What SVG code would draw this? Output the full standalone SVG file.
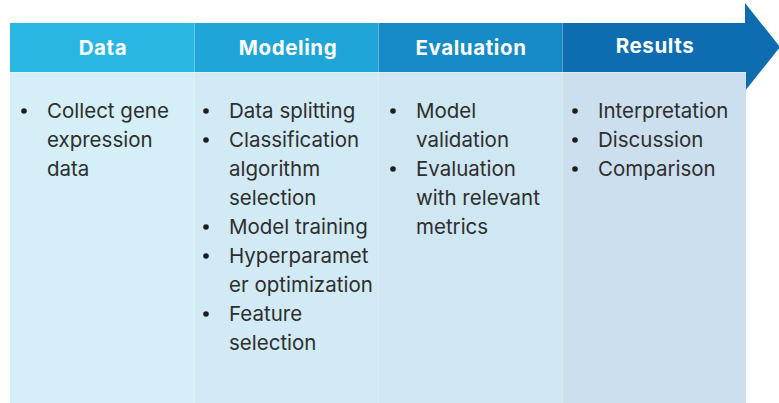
<svg xmlns="http://www.w3.org/2000/svg" width="779" height="403" viewBox="0 0 779 403">
  <style>
    .head { font-family: Inter, "Noto Sans", "Liberation Sans", sans-serif; font-size: 20.5px; font-weight: 700; fill: #ffffff; text-anchor: middle; letter-spacing: 0.6px; }
    .item { font-family: Inter, "Noto Sans", "Liberation Sans", sans-serif; font-size: 20.5px; fill: #2e2e2e; }
    .dot { fill: #1e1e1e; }
    .sep { stroke: #ffffff; stroke-opacity: 0.35; stroke-width: 1; }
  </style>
  <rect width="779" height="403" fill="#ffffff"/>

  <!-- arrow head at the end of the header band -->
  <polygon points="745,3 780,47 745,91" fill="#0e6db0"/>

  <g id="data">
    <rect x="10" y="23" width="184" height="49" fill="#29b6e3"/>
    <rect x="10" y="72" width="184" height="331" fill="#d4eff8"/>
    <text class="head" x="103" y="55">Data</text>
    <circle class="dot" cx="24" cy="111" r="2.8"/>
    <text class="item" x="47" y="118">Collect gene</text>
    <text class="item" x="47" y="147">expression</text>
    <text class="item" x="47" y="176">data</text>
  </g>

  <g id="modeling">
    <rect x="194" y="23" width="184" height="49" fill="#1fa5d8"/>
    <rect x="194" y="72" width="184" height="331" fill="#d2eaf6"/>
    <text class="head" x="288" y="55">Modeling</text>
    <circle class="dot" cx="206" cy="111" r="2.8"/>
    <text class="item" x="229" y="118">Data splitting</text>
    <circle class="dot" cx="206" cy="140" r="2.8"/>
    <text class="item" x="229" y="147">Classification</text>
    <text class="item" x="229" y="176">algorithm</text>
    <text class="item" x="229" y="205">selection</text>
    <circle class="dot" cx="206" cy="227" r="2.8"/>
    <text class="item" x="229" y="234">Model training</text>
    <circle class="dot" cx="206" cy="256" r="2.8"/>
    <text class="item" x="229" y="263">Hyperparamet</text>
    <text class="item" x="229" y="292">er optimization</text>
    <circle class="dot" cx="206" cy="314" r="2.8"/>
    <text class="item" x="229" y="321">Feature</text>
    <text class="item" x="229" y="350">selection</text>
  </g>

  <g id="evaluation">
    <rect x="378" y="23" width="184" height="49" fill="#178bc6"/>
    <rect x="378" y="72" width="184" height="331" fill="#cfe6f3"/>
    <text class="head" x="471" y="55">Evaluation</text>
    <circle class="dot" cx="393" cy="111" r="2.8"/>
    <text class="item" x="416" y="118">Model</text>
    <text class="item" x="416" y="147">validation</text>
    <circle class="dot" cx="393" cy="169" r="2.8"/>
    <text class="item" x="416" y="176">Evaluation</text>
    <text class="item" x="416" y="205">with relevant</text>
    <text class="item" x="416" y="234">metrics</text>
  </g>

  <g id="results">
    <rect x="562" y="23" width="184" height="49" fill="#0e6db0"/>
    <rect x="562" y="72" width="184" height="331" fill="#cbdfee"/>
    <text class="head" x="655" y="53">Results</text>
    <circle class="dot" cx="575" cy="111" r="2.8"/>
    <text class="item" x="598" y="118">Interpretation</text>
    <circle class="dot" cx="575" cy="140" r="2.8"/>
    <text class="item" x="598" y="147">Discussion</text>
    <circle class="dot" cx="575" cy="169" r="2.8"/>
    <text class="item" x="598" y="176">Comparison</text>
  </g>

  <!-- thin column dividers -->
  <g id="dividers">
    <line class="sep" x1="194.5" y1="23" x2="194.5" y2="403"/>
    <line class="sep" x1="378.5" y1="23" x2="378.5" y2="403"/>
    <line class="sep" x1="562.5" y1="23" x2="562.5" y2="403"/>
    <line class="sep" x1="10" y1="72.5" x2="746" y2="72.5"/>
  </g>
</svg>
